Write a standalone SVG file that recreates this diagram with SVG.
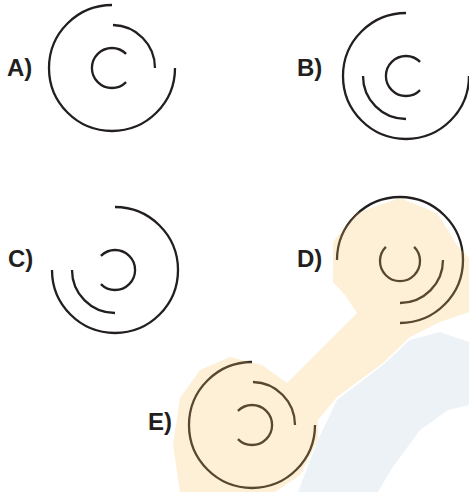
<svg xmlns="http://www.w3.org/2000/svg" width="469" height="492" viewBox="0 0 469 492">
<style>
.arc{fill:none;stroke:#231f20;stroke-width:2.3;stroke-linecap:butt}
.lbl{font-family:"Liberation Sans",Arial,sans-serif;font-weight:bold;font-size:24px;fill:#231f20}
</style>
<rect width="469" height="492" fill="#ffffff"/>
<g id="watermark-blue">
<path d="M298,492 L318,440 L337,400 L383,365 L410,340 L440,332 L469,342 L469,405 L448,410 L420,430 L392,468 L378,492 Z" fill="#edf2f6"/>
</g>
<g id="optA">
<text class="lbl" x="7" y="76">A)</text>
<path class="arc" d="M112,5 A63,63 0 1 0 175,68"/>
<path class="arc" d="M113,25 A43,43 0 0 1 155,68"/>
<path class="arc" d="M126.1,53.9 A20,20 0 1 0 126.1,82.1"/>
</g>
<g id="optB">
<text class="lbl" x="297" y="76">B)</text>
<path class="arc" d="M406,13 A63,63 0 1 0 469,76"/>
<path class="arc" d="M363,76 A43,43 0 0 0 406,119"/>
<path class="arc" d="M420.1,61.9 A20,20 0 1 0 420.1,90.1"/>
</g>
<g id="optC">
<text class="lbl" x="8" y="267">C)</text>
<path class="arc" d="M115,207 A63,63 0 1 1 52,270"/>
<path class="arc" d="M72,270 A43,43 0 0 0 115,313"/>
<path class="arc" d="M100.9,255.9 A20,20 0 1 1 100.9,284.1"/>
</g>
<g id="optD">
<text class="lbl" x="297" y="267">D)</text>
<path class="arc" d="M337,260 A63,63 0 1 1 400,323"/>
<path class="arc" d="M443,260 A43,43 0 0 1 400,303"/>
<path class="arc" d="M385.9,246.9 A20,20 0 1 0 414.1,246.9"/>
</g>
<g id="optE">
<text class="lbl" x="148" y="430">E)</text>
<path class="arc" d="M252,362 A63,63 0 1 0 315,425"/>
<path class="arc" d="M253,382 A43,43 0 0 1 295,425"/>
<path class="arc" d="M237.9,410.9 A20,20 0 1 1 237.9,439.1"/>
</g>
<g id="watermark-orange">
<path d="M333,242 L357,213 L400,198 L437,213 L457,245 L469,258 L469,312 L440,322 L410,337 L383,363 L337,397 L318,420 L318,440 L300,475 L275,492 L180,492 L173,445 L180,398 L200,370 L230,357 L262,365 L287,383 L320,350 L357,313 L345,295 L333,282 Z" fill="#f7c35b" fill-opacity="0.25"/>
</g>
</svg>
